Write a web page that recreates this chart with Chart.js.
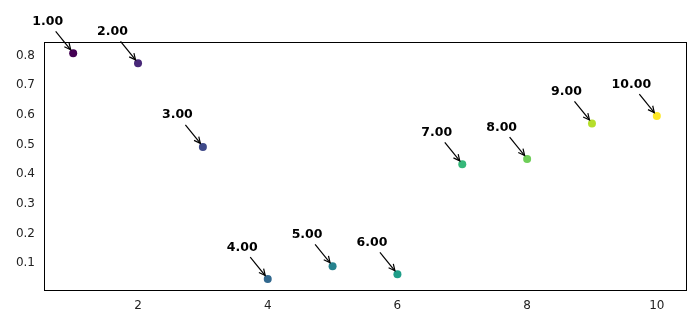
<!DOCTYPE html>
<html><head><meta charset="utf-8">
<script src="https://cdn.jsdelivr.net/npm/chart.js@4"></script>
<style>html,body{margin:0;padding:0;background:#fff}#wrap{width:700px;height:327px;position:relative}</style>
</head><body><div id="wrap"><canvas id="c"></canvas></div>
<script>
const xValues = [1, 2, 3, 4, 5, 6, 7, 8, 9, 10];
const yValues = [0.808, 0.774, 0.492, 0.046, 0.089, 0.062, 0.433, 0.451, 0.571, 0.596];
const pointLabels = ["1.00","2.00","3.00","4.00","5.00","6.00","7.00","8.00","9.00","10.00"];
const pointColors = ["#440154","#482878","#3e4989","#31688e","#26828e","#1f9e89","#35b779","#6ece58","#b5de2b","#fde725"];
const xTicks = [2, 4, 6, 8, 10];
const yTicks = [0.1, 0.2, 0.3, 0.4, 0.5, 0.6, 0.7, 0.8];

const FONT = "'DejaVu Sans', sans-serif";

const annotatePlugin = {
  id: 'annotate',
  afterDatasetsDraw(chart) {
    const ctx = chart.ctx;
    const xs = chart.scales.x, ys = chart.scales.y;
    ctx.save();
    ctx.fillStyle = '#000';
    ctx.strokeStyle = '#000';
    ctx.font = "bold 12.5px " + FONT;
    ctx.textAlign = 'center';
    ctx.textBaseline = 'alphabetic';
    for (let i = 0; i < xValues.length; i++) {
      const px = xs.getPixelForValue(xValues[i]);
      const py = ys.getPixelForValue(yValues[i]);
      ctx.fillText(pointLabels[i], px - 25.5, py - 28.5);
      const x0 = px - 17.5, y0 = py - 22, x1 = px - 2.5, y1 = py - 3.5;
      ctx.lineWidth = 1.2;
      ctx.beginPath(); ctx.moveTo(x0, y0); ctx.lineTo(x1, y1); ctx.stroke();
      const ang = Math.atan2(y1 - y0, x1 - x0);
      const hl = 7, ha = 0.45;
      ctx.beginPath();
      ctx.moveTo(x1 - hl * Math.cos(ang - ha), y1 - hl * Math.sin(ang - ha));
      ctx.lineTo(x1, y1);
      ctx.lineTo(x1 - hl * Math.cos(ang + ha), y1 - hl * Math.sin(ang + ha));
      ctx.stroke();
    }
    ctx.restore();
  }
};

const framePlugin = {
  id: 'frame',
  afterDraw(chart) {
    const a = chart.chartArea, ctx = chart.ctx;
    ctx.save();
    ctx.strokeStyle = '#000';
    ctx.lineWidth = 1;
    ctx.strokeRect(Math.round(a.left) + 0.5, Math.round(a.top) + 0.5, Math.round(a.right - a.left), Math.round(a.bottom - a.top));
    ctx.restore();
  }
};

new Chart(document.getElementById('c'), {
  type: 'scatter',
  data: {
    datasets: [{
      data: xValues.map((x, i) => ({x: x, y: yValues[i]})),
      pointBackgroundColor: pointColors,
      pointBorderColor: pointColors,
      pointRadius: 4,
      pointBorderWidth: 0
    }]
  },
  options: {
    responsive: true,
    maintainAspectRatio: false,
    animation: false,
    devicePixelRatio: 1,
    layout: { padding: { left: 0, right: 14, top: 42, bottom: 0 } },
    plugins: { legend: { display: false }, tooltip: { enabled: false } },
    scales: {
      x: {
        type: 'linear', min: 0.55, max: 10.45,
        afterBuildTicks(s) { s.ticks = xTicks.map(v => ({value: v})); },
        afterFit(s) { s.height = 37; },
        grid: { display: false, drawTicks: true, tickLength: 4, tickColor: '#000' },
        border: { display: true, color: '#000', width: 1 },
        ticks: { color: '#222', font: { family: FONT, size: 12 }, padding: 5, callback: v => String(v) }
      },
      y: {
        type: 'linear', min: 0.009, max: 0.846,
        afterBuildTicks(s) { s.ticks = yTicks.map(v => ({value: v})); },
        afterFit(s) { s.width = 44; },
        grid: { display: false, drawTicks: true, tickLength: 4, tickColor: '#000' },
        border: { display: true, color: '#000', width: 1 },
        ticks: { color: '#222', font: { family: FONT, size: 12 }, padding: 5, callback: v => v.toFixed(1) }
      }
    }
  },
  plugins: [annotatePlugin, framePlugin]
});
</script>
</body></html>
